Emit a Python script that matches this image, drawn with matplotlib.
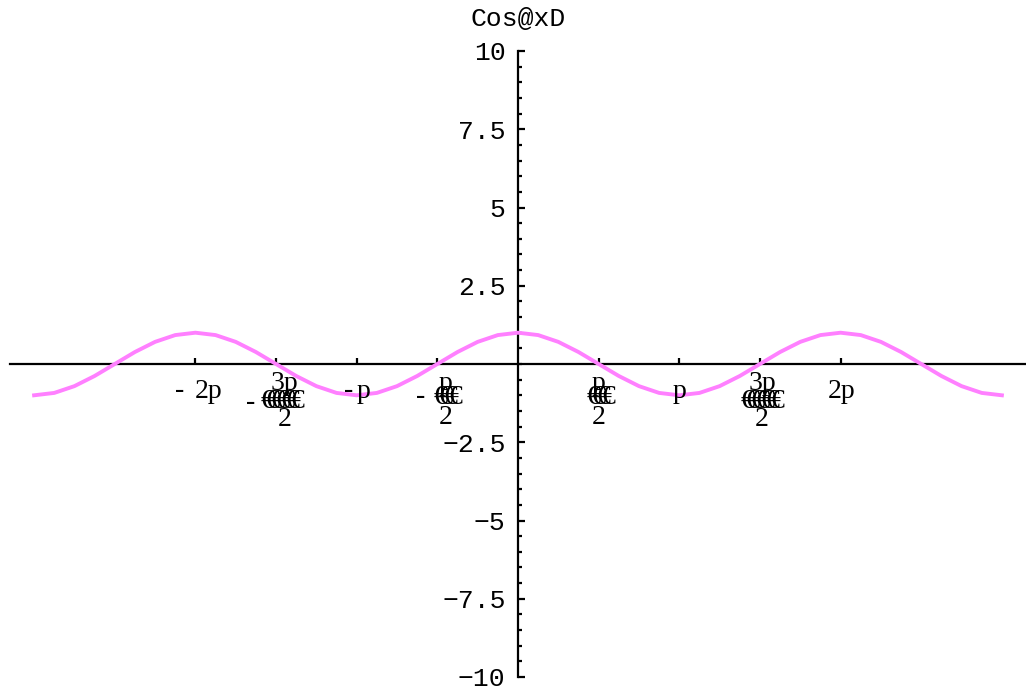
import numpy as np
import matplotlib
matplotlib.use("Agg")
import matplotlib.pyplot as plt

# curve samples, x in units of pi/8 from -3pi to 3pi
x_steps = list(range(-24, 25))
cos_values = [-1.0, -0.924, -0.707, -0.383, 0.0, 0.383, 0.707, 0.924,
              1.0, 0.924, 0.707, 0.383, 0.0, -0.383, -0.707, -0.924,
              -1.0, -0.924, -0.707, -0.383, 0.0, 0.383, 0.707, 0.924,
              1.0, 0.924, 0.707, 0.383, 0.0, -0.383, -0.707, -0.924,
              -1.0, -0.924, -0.707, -0.383, 0.0, 0.383, 0.707, 0.924,
              1.0, 0.924, 0.707, 0.383, 0.0, -0.383, -0.707, -0.924,
              -1.0]

y_major = [-10, -7.5, -5, -2.5, 2.5, 5, 7.5, 10]
y_major_labels = ["\u221210", "\u22127.5", "\u22125", "\u22122.5", "2.5", "5", "7.5", "10"]
x_tick_halves = [-4, -3, -2, -1, 1, 2, 3, 4]   # multiples of pi/2

xs = np.array(x_steps) * np.pi / 8
ys = np.array(cos_values)

fig = plt.figure(figsize=(10.26, 6.93), dpi=100)
ax = fig.add_axes([0, 0, 1, 1])
ax.patch.set_alpha(0)

pi_px = 161.3
y_px = 31.3
ax.set_xlim(-518 / pi_px * np.pi, 508 / pi_px * np.pi)
ax.set_ylim(-(693 - 364) / y_px, 364 / y_px)

ax.plot(xs, ys, color="#ff80ff", lw=2.8, solid_joinstyle="round", zorder=3)

# axes through origin
for s in ["top", "right"]:
    ax.spines[s].set_visible(False)
ax.spines["left"].set_position(("data", 0))
ax.spines["bottom"].set_position(("data", 0))
ax.spines["left"].set_bounds(-10, 10)
ax.spines["bottom"].set_bounds(-3.15 * np.pi, 3.15 * np.pi)
ax.spines["left"].set_linewidth(1.6)
ax.spines["bottom"].set_linewidth(1.6)

ax.set_yticks(y_major)
ax.set_yticklabels(y_major_labels, family="Liberation Mono", fontsize=19)
ax.set_yticks(np.arange(-10, 10.01, 0.5), minor=True)
ax.tick_params(axis="y", which="major", direction="in", length=5, width=1.6, pad=9)
ax.tick_params(axis="y", which="minor", direction="in", length=3, width=1.6)

ax.set_xticks(np.array(x_tick_halves) * np.pi / 2)
ax.set_xticklabels([])
ax.tick_params(axis="x", which="major", direction="in", length=4, width=1.6)

ax.text(0.505, 0.972, "Cos@xD", transform=ax.transAxes, family="Liberation Mono",
        fontsize=19, ha="center", va="center")

serif = dict(family="Liberation Serif", fontsize=20, ha="center", va="center")


def px(xp, yp):
    # pixel position to data
    return (xp - 518) / pi_px * np.pi, (364 - yp) / y_px


def junk(xc, yc, n):
    for i in range(n):
        ax.text(*px(xc - 2.5 * (n - 1) + 5 * i, yc), "\u20ac", **serif)


# integer multiples
ax.text(*px(180, 390), "-", **serif)
ax.text(*px(209, 392), "2p", **serif)
ax.text(*px(349, 390), "-", **serif)
ax.text(*px(364, 392), "p", **serif)
ax.text(*px(680, 392), "p", **serif)
ax.text(*px(842, 392), "2p", **serif)

# fractions with broken glyphs
ax.text(*px(251, 403), "-", **serif)
ax.text(*px(284, 384), "3p", **serif)
junk(283, 402, 7)
ax.text(*px(285, 419), "2", **serif)

ax.text(*px(421, 397), "-", **serif)
ax.text(*px(446, 383), "p", **serif)
junk(448, 397, 4)
ax.text(*px(446, 417), "2", **serif)

ax.text(*px(599, 383), "p", **serif)
junk(601, 397, 4)
ax.text(*px(599, 417), "2", **serif)

ax.text(*px(762, 384), "3p", **serif)
junk(763, 402, 7)
ax.text(*px(762, 419), "2", **serif)

fig.savefig("out.png", dpi=100)
